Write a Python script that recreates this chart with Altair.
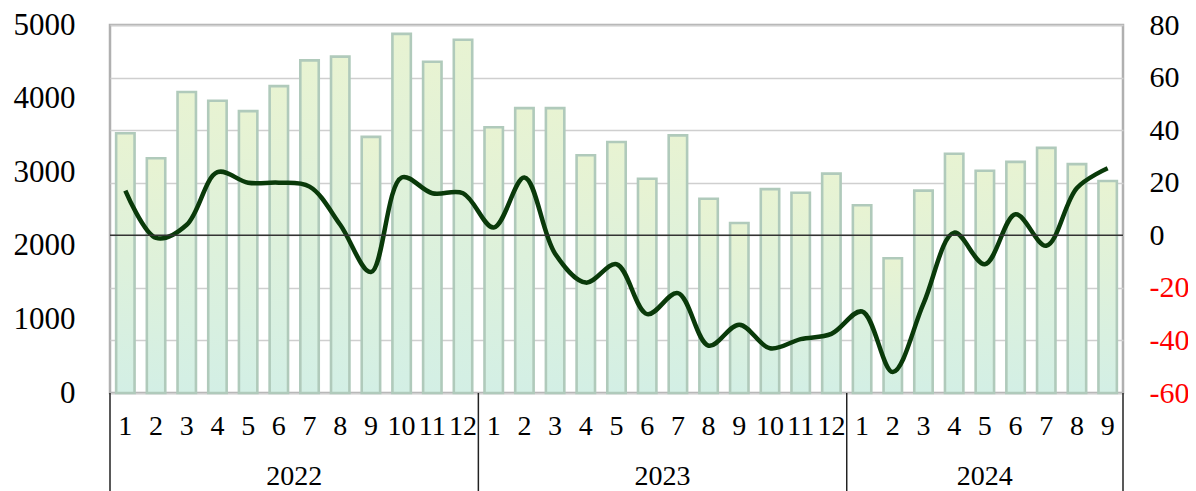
import altair as alt
import pandas as pd

months = [1,2,3,4,5,6,7,8,9,10,11,12, 1,2,3,4,5,6,7,8,9,10,11,12, 1,2,3,4,5,6,7,8,9]
years = ["2022", "2023", "2024"]
year_counts = [12, 12, 9]
bar_values = [3530,3190,4090,3970,3830,4170,4520,4570,3480,4880,4500,4800,
              3610,3870,3870,3230,3410,2910,3500,2640,2310,2770,2720,2980,
              2550,1830,2750,3250,3020,3140,3330,3110,2880]
line_values = [17,-1,4,24,20,20,18.5,4,-14,22,16,16,
               3,22,-7,-18,-11,-30,-22,-42,-34,-43,-39.5,-37.5,
               -29,-52,-26,1,-11,8,-4,18,25.5]

n = len(months)
df = pd.DataFrame({
    "i": list(range(n)),
    "month": [str(m) for m in months],
    "bar": bar_values,
    "line": line_values,
})
df["x0"] = df["i"] + 0.2
df["x1"] = df["i"] + 0.8
df["xc"] = df["i"] + 0.5

starts = [0]
for c in year_counts[:-1]:
    starts.append(starts[-1] + c)
ydf = pd.DataFrame({"year": years, "start": starts, "count": year_counts})
ydf["mid"] = ydf["start"] + ydf["count"] / 2
sep = pd.DataFrame({"s": starts + [n]})

H = 368
xs = alt.Scale(domain=[0, n], nice=False, zero=False)
FONT = "Liberation Serif"

bars = alt.Chart(df).mark_bar(
    stroke="#b0cabb", strokeWidth=2.6,
    color=alt.Gradient(gradient="linear",
                       stops=[alt.GradientStop(color="#e8f3d2", offset=0),
                              alt.GradientStop(color="#d3efe5", offset=1)],
                       x1=1, x2=1, y1=0, y2=1),
).encode(
    x=alt.X("x0:Q", scale=xs, axis=None),
    x2="x1:Q",
    y=alt.Y("bar:Q", scale=alt.Scale(domain=[0, 5000], nice=False),
            axis=alt.Axis(values=[0,1000,2000,3000,4000,5000], format="d", grid=False,
                          ticks=False, domain=False, labelFont=FONT, labelFontSize=31,
                          labelColor="black", labelPadding=35, labelFlush=False, title=None)),
    y2=alt.datum(0),
)

rscale = alt.Scale(domain=[-60, 80], nice=False)

line = alt.Chart(df).mark_line(interpolate="catmull-rom", color="#0a3a0a", strokeWidth=4.5).encode(
    x=alt.X("xc:Q", scale=xs, axis=None),
    y=alt.Y("line:Q", scale=rscale,
            axis=alt.Axis(orient="right", values=[-60,-40,-20,0,20,40,60,80], grid=True,
                          gridColor="#cfcfcf", gridWidth=1.5, ticks=False, domain=False,
                          labelFont=FONT, labelFontSize=30, labelPadding=26, labelFlush=False,
                          labelExpr="'' + datum.value",
                          title=None,
                          labelColor={"condition": {"test": "datum.value < 0", "value": "#ff0000"},
                                      "value": "#000000"})),
)

zero = alt.Chart(pd.DataFrame({"z": [0]})).mark_rule(color="#333333", strokeWidth=1.5).encode(
    y=alt.Y("z:Q", scale=rscale, axis=None),
)

month_text = alt.Chart(df).mark_text(font=FONT, fontSize=28, baseline="middle", color="black").encode(
    x=alt.X("xc:Q", scale=xs, axis=None),
    y=alt.value(H + 34),
    text="month:N",
)

year_text = alt.Chart(ydf).mark_text(font=FONT, fontSize=28, baseline="middle", color="black").encode(
    x=alt.X("mid:Q", scale=xs, axis=None),
    y=alt.value(H + 84),
    text="year:N",
)

seps = alt.Chart(sep).mark_rule(color="#222222", strokeWidth=1.5).encode(
    x=alt.X("s:Q", scale=xs, axis=None),
    y=alt.value(H),
    y2=alt.value(H + 110),
)

chart = alt.layer(bars, line, zero, month_text, year_text, seps).resolve_scale(
    y="independent"
).properties(
    width=1013, height=H,
    autosize=alt.AutoSizeParams(type="none"),
    padding={"left": 102, "top": 17, "right": 65, "bottom": 100},
).configure_view(stroke="#b0b0b0", strokeWidth=2.5)

chart.save("out.html", embed_options={"renderer": "svg", "actions": False})
